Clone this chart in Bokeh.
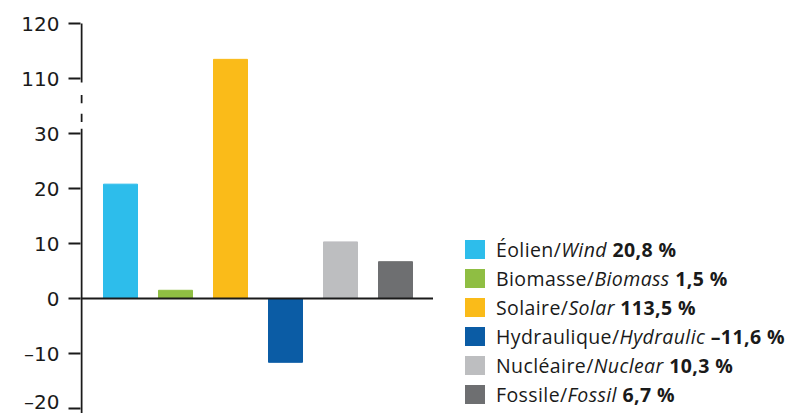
from bokeh.plotting import figure
from bokeh.models import Range1d, FixedTicker, Span, Div, ColumnDataSource
from bokeh.layouts import row
from bokeh.embed import file_html
from bokeh.resources import INLINE

# ---- data ----
categories_fr = ["Éolien", "Biomasse", "Solaire", "Hydraulique", "Nucléaire", "Fossile"]
categories_en = ["Wind", "Biomass", "Solar", "Hydraulic", "Nuclear", "Fossil"]
values = [20.8, 1.5, 113.5, -11.6, 10.3, 6.7]
colors = ["#2dbdeb", "#8fbe43", "#fabb19", "#0b5ca5", "#bdbec0", "#6e6f71"]
tick_values = [-20, -10, 0, 10, 20, 30, 110, 120]
tick_labels = ["–20", "–10", "0", "10", "20", "30", "110", "120"]

# broken axis: 30 ... 110 collapsed so that 110 sits one step (10) above 30
BREAK_LOW, BREAK_HIGH, BREAK_STEP = 30, 110, 10


def to_plot(v):
    return v if v <= BREAK_LOW else v - (BREAK_HIGH - BREAK_LOW - BREAK_STEP)


PX = 1 / 55.0          # x units per pixel (55 px between bar centres)
X0 = -40 * PX          # first bar centre 40 px right of the axis

src = ColumnDataSource(dict(
    x=list(range(len(values))),
    top=[to_plot(v) for v in values],
    color=colors,
))

p = figure(width=433, height=413, output_backend="svg", toolbar_location=None,
           x_axis_location=None, y_axis_location="left",
           x_range=Range1d(X0, X0 + 353 * PX), y_range=Range1d(-20.91, 50.02),
           min_border_left=80, min_border_right=0, min_border_top=23, min_border_bottom=0)
p.outline_line_color = None
p.xgrid.visible = False
p.ygrid.visible = False
p.background_fill_color = "white"
p.border_fill_color = "white"

p.vbar(x="x", top="top", bottom=0, width=34 * PX, color="color", source=src)

# zero line
p.add_layout(Span(location=0, dimension="width", line_color="#1a1a1a", line_width=2))

# y axis (line drawn manually to show the break)
ya = p.yaxis[0]
plot_ticks = [to_plot(t) for t in tick_values]
ya.ticker = FixedTicker(ticks=plot_ticks)
ya.major_label_overrides = {t: lab for t, lab in zip(plot_ticks, tick_labels)}
ya.axis_line_color = None
ya.major_tick_line_color = "#1a1a1a"
ya.major_tick_line_width = 2
ya.major_tick_out = 12
ya.major_tick_in = 0
ya.minor_tick_line_color = None
ya.major_label_text_font = "DejaVu Sans"
ya.major_label_text_font_size = "20px"
ya.major_label_text_color = "#1a1a1a"
ya.major_label_standoff = 9

ax_x = X0 + 1 * PX
seg_y0 = [-22, 32.1, 35.5, 39.3]
seg_y1 = [30.9, 33.6, 37.0, 51]
p.segment(x0=[ax_x] * 4, y0=seg_y0, x1=[ax_x] * 4, y1=seg_y1,
          line_color="#1a1a1a", line_width=2)

# ---- legend ----
lines = []
for fr, en, v, c in zip(categories_fr, categories_en, values, colors):
    s = f"{abs(v):.1f}".replace(".", ",")
    if v < 0:
        s = "–" + s
    lines.append(
        '<div style="height:29px;line-height:29px;white-space:nowrap">'
        f'<span style="display:inline-block;width:20px;height:19px;background:{c};'
        'vertical-align:middle;margin:0 11px 0 32px;position:relative;top:-2px"></span>'
        f'{fr}/<i>{en}</i> <b>{s}&nbsp;%</b></div>'
    )
html = ('<div style="font-family:\'Open Sans\';font-size:19.5px;letter-spacing:0.4px;'
        'color:#1a1a1a;padding-top:235px">' + "".join(lines) + "</div>")
legend = Div(text=html, width=358, height=413, margin=0)

layout = row(p, legend)
open("out.html", "w").write(file_html(layout, INLINE))
